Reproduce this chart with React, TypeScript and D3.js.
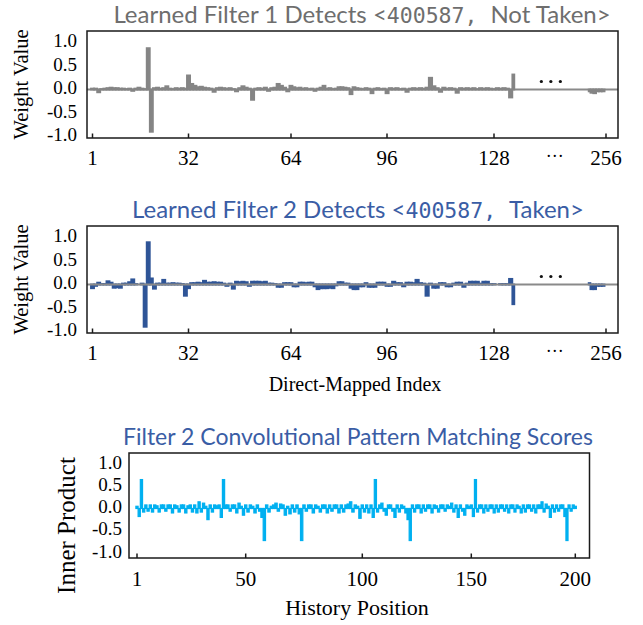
import React, { useEffect, useRef } from 'react';
import * as d3 from 'd3';

// weights of the learned filters, index 1..134, then the tail 250..255
const filter1Weights = [
  0.02, 0.02, -0.06, 0.01, 0.02, 0.03, 0.04, 0.03, 0.03, 0.02,
  0.02, 0.01, 0.02, -0.03, 0.02, 0.04, 0.02, 0.01, 0.88, -0.9,
  0.03, 0.04, 0.02, 0.03, 0.07, 0.02, 0.01, 0.03, 0.02, 0.03,
  0.02, 0.3, 0.12, 0.08, 0.05, 0.06, 0.04, 0.03, 0.02, -0.05,
  0.03, 0.04, 0.03, 0.02, 0.03, 0.01, -0.04, 0.03, 0.07, 0.04,
  0.02, -0.22, 0.02, 0.03, 0.02, 0.04, -0.03, 0.03, 0.04, 0.12,
  0.08, 0.04, -0.04, 0.08, 0.05, 0.03, 0.04, 0.02, 0.03, 0.01,
  0.02, -0.03, 0.02, 0.04, 0.08, 0.02, 0.03, 0.01, 0.02, 0.05,
  0.05, 0.04, 0.03, -0.1, 0.05, 0.03, 0.02, 0.01, 0.03, 0.02,
  -0.08, 0.02, 0.03, 0.01, 0.02, -0.08, 0.03, 0.02, 0.03, 0.01,
  0.02, -0.05, 0.02, 0.03, 0.02, 0.03, 0.02, 0.04, 0.25, 0.07,
  0.03, -0.05, 0.04, 0.02, 0.03, 0.02, -0.07, 0.03, 0.02, 0.03,
  0.02, 0.03, 0.01, 0.03, 0.02, 0.03, 0.02, 0.01, 0.03, 0.02,
  0.03, 0.02, -0.17, 0.32,
];
const filter1Tail = [-0.04, -0.07, -0.08, -0.04, -0.04, -0.04];

const filter2Weights = [
  -0.08, -0.03, 0.04, 0.01, 0.01, 0.07, 0.04, -0.07, -0.06, -0.07,
  0.02, 0.02, 0.05, 0.11, 0.01, 0.0, 0.02, -0.9, 0.9, 0.13,
  -0.09, 0.02, 0.02, 0.1, 0.02, 0.02, 0.03, 0.02, 0.02, 0.01,
  -0.24, -0.08, 0.03, 0.03, 0.04, 0.03, 0.08, 0.04, 0.04, 0.05,
  0.04, 0.04, 0.02, -0.03, 0.02, -0.09, 0.06, 0.05, 0.06, 0.05,
  -0.03, 0.06, 0.06, 0.06, 0.05, 0.06, 0.02, 0.02, 0.01, -0.05,
  -0.05, 0.03, 0.03, 0.03, -0.04, -0.04, 0.04, 0.04, 0.03, 0.04,
  0.04, -0.04, -0.1, -0.08, -0.08, -0.08, -0.07, -0.08, -0.02, 0.05,
  0.05, 0.02, 0.02, -0.07, -0.1, -0.1, -0.04, -0.04, 0.03, -0.05,
  -0.05, -0.05, 0.04, 0.04, 0.04, -0.03, -0.03, 0.06, 0.03, 0.03,
  -0.04, 0.04, 0.04, 0.03, 0.1, 0.03, 0.02, -0.24, 0.02, -0.07,
  -0.07, 0.03, 0.03, -0.04, -0.04, 0.02, 0.04, 0.04, -0.05, 0.02,
  0.06, 0.06, 0.06, 0.02, 0.06, 0.06, 0.01, 0.01, 0.0, 0.01,
  0.01, 0.01, 0.12, -0.42,
];
const filter2Tail = [0.03, -0.1, -0.1, -0.03, -0.03, -0.03];
const tailStart = 250;

const indexTicks = [1, 32, 64, 96, 128, 256];
const weightTicks = [1.0, 0.5, 0.0, -0.5, -1.0];

// filter 2 inner product at each of the 200 history positions
const matchScores = [
  0.05, -0.18, 0.65, -0.08, 0.08, -0.06, 0.08, -0.08, 0.08, 0.06,
  -0.08, 0.08, 0.08, -0.06, 0.08, 0.08, -0.1, 0.08, 0.06, -0.08,
  0.08, 0.08, -0.1, 0.06, 0.08, -0.08, 0.08, -0.1, 0.15, -0.08,
  0.12, 0.05, -0.25, 0.08, -0.08, 0.08, 0.06, 0.08, -0.2, 0.65,
  0.08, 0.08, -0.06, 0.08, 0.08, -0.1, 0.12, 0.05, -0.15, 0.08,
  -0.08, 0.08, 0.05, -0.1, 0.08, -0.06, -0.2, -0.72, 0.08, -0.08,
  0.05, 0.08, 0.12, -0.06, 0.1, 0.08, -0.15, 0.05, -0.12, 0.08,
  -0.08, 0.08, -0.12, -0.72, 0.08, -0.06, 0.08, 0.08, -0.1, 0.08,
  0.05, -0.08, 0.08, 0.08, -0.1, 0.08, -0.06, 0.08, 0.08, -0.1,
  0.08, -0.08, 0.08, 0.1, 0.15, -0.08, 0.08, 0.05, -0.22, 0.08,
  -0.08, 0.08, -0.1, 0.08, -0.2, 0.65, -0.08, 0.08, 0.12, -0.06,
  -0.15, 0.08, 0.08, -0.06, -0.2, 0.08, -0.08, 0.08, 0.05, -0.1,
  -0.25, -0.72, 0.08, -0.08, 0.08, 0.08, -0.1, 0.08, -0.06, 0.08,
  0.08, -0.1, 0.08, 0.06, -0.08, 0.08, 0.08, -0.06, 0.08, 0.05,
  0.12, -0.08, 0.08, -0.2, 0.08, -0.06, -0.15, 0.08, 0.05, 0.08,
  -0.18, 0.65, -0.08, 0.08, 0.08, -0.1, 0.08, -0.06, 0.08, 0.08,
  -0.1, 0.08, -0.08, 0.08, 0.08, -0.06, 0.08, -0.1, 0.08, 0.08,
  -0.08, 0.08, 0.05, -0.1, 0.08, -0.08, 0.08, 0.08, -0.06, 0.08,
  -0.1, 0.08, 0.08, 0.15, -0.08, 0.1, 0.05, -0.2, 0.08, -0.08,
  0.08, -0.06, 0.08, 0.08, -0.18, -0.72, 0.08, -0.06, 0.08, 0.05,
];
const positionTicks = [1, 50, 100, 150, 200];
const scoreTicks = [1.0, 0.5, 0.0, -0.5, -1.0];

const SERIF = '"Liberation Serif", "Times New Roman", serif';
const SANS = 'Lato, "Open Sans", sans-serif';
const MONO = '"DejaVu Sans Mono", "Liberation Mono", monospace';
const TITLE_BLUE = '#3a5da5';

type Sel = d3.Selection<SVGSVGElement, unknown, null, undefined>;

function drawTitle(svg: Sel, cx: number, cy: number, parts: [string, string][], color: string, size = 24) {
  const t = svg.append('text')
    .attr('x', cx).attr('y', cy)
    .attr('text-anchor', 'middle')
    .attr('fill', color)
    .attr('font-size', size);
  parts.forEach(([s, font]) => {
    t.append('tspan')
      .attr('font-family', font)
      .attr('font-size', font === MONO ? 21.5 : size)
      .attr('xml:space', 'preserve')
      .style('white-space', 'pre')
      .text(s);
  });
}

function drawWeights(svg: Sel, top: number, values: number[], tail: number[], color: string, lineOnTop: boolean) {
  const left = 87, right = 618, bottom = top + 107;
  const x = d3.scaleLinear()
    .domain([1, 32, 64, 96, 128, 134, tailStart, 256])
    .range([92.5, 188.5, 291, 387, 494, 514, 589, 606]);
  const y = d3.scaleLinear().domain([-1, 1]).range([top + 105.5, top + 11.5]);

  const data = values.map((v, i) => ({ idx: i + 1, v }))
    .concat(tail.map((v, i) => ({ idx: tailStart + i, v })));

  const baseline = () => svg.append('line')
    .attr('x1', left).attr('x2', right)
    .attr('y1', y(0)).attr('y2', y(0))
    .attr('stroke', '#8a8a8a').attr('stroke-width', 2);

  if (!lineOnTop) baseline();

  svg.append('g').selectAll('rect')
    .data(data)
    .enter()
    .append('rect')
    .attr('x', d => x(d.idx - 0.5))
    .attr('width', d => x(d.idx + 0.5) - x(d.idx - 0.5))
    .attr('y', d => y(Math.max(0, d.v)))
    .attr('height', d => Math.abs(y(d.v) - y(0)))
    .attr('fill', color)
    .attr('stroke', color)
    .attr('stroke-width', 1.8);

  if (lineOnTop) baseline();

  // the "..." gap marker
  const gapX = x(191);
  [-9.5, 0, 9.5].forEach(dx => {
    svg.append('circle')
      .attr('cx', gapX + dx).attr('cy', y(0.17))
      .attr('r', 1.6).attr('fill', '#111');
  });

  svg.append('rect')
    .attr('x', left).attr('y', top)
    .attr('width', right - left).attr('height', bottom - top)
    .attr('fill', 'none').attr('stroke', '#1a1a1a').attr('stroke-width', 1.5);

  indexTicks.forEach(t => {
    svg.append('line')
      .attr('x1', x(t)).attr('x2', x(t))
      .attr('y1', bottom).attr('y2', bottom - 4.5)
      .attr('stroke', '#1a1a1a').attr('stroke-width', 1.5);
    svg.append('text')
      .attr('x', x(t)).attr('y', bottom + 27)
      .attr('text-anchor', 'middle')
      .attr('font-family', SERIF).attr('font-size', 21)
      .text(t);
  });
  svg.append('text')
    .attr('x', gapX + 4).attr('y', bottom + 24)
    .attr('text-anchor', 'middle')
    .attr('font-family', SERIF).attr('font-size', 18)
    .text('···');

  weightTicks.forEach(t => {
    svg.append('text')
      .attr('x', 77).attr('y', y(t) + 4.5)
      .attr('text-anchor', 'end')
      .attr('font-family', SERIF).attr('font-size', 19)
      .text(t.toFixed(1));
  });

  svg.append('text')
    .attr('transform', `translate(28,${(top + bottom) / 2}) rotate(-90)`)
    .attr('text-anchor', 'middle')
    .attr('font-family', SERIF).attr('font-size', 20.5)
    .text('Weight Value');
}

function drawScores(svg: Sel) {
  const left = 129, right = 589.5, top = 453, bottom = 558;
  const x = d3.scaleLinear()
    .domain(positionTicks)
    .range([137, 245.7, 362.3, 471.3, 575.3]);
  const y = d3.scaleLinear().domain([-1, 1]).range([553, 464]);

  svg.append('g').selectAll('rect')
    .data(matchScores)
    .enter()
    .append('rect')
    .attr('x', (d, i) => x(i + 0.5))
    .attr('width', (d, i) => x(i + 1.5) - x(i + 0.5))
    .attr('y', d => y(Math.max(0, d)))
    .attr('height', d => Math.abs(y(d) - y(0)))
    .attr('fill', '#00b0f0')
    .attr('stroke', '#00b0f0')
    .attr('stroke-width', 1.2);

  svg.append('rect')
    .attr('x', left).attr('y', top)
    .attr('width', right - left).attr('height', bottom - top)
    .attr('fill', 'none').attr('stroke', '#1a1a1a').attr('stroke-width', 1.5);

  positionTicks.forEach(t => {
    svg.append('line')
      .attr('x1', x(t)).attr('x2', x(t))
      .attr('y1', bottom).attr('y2', bottom - 4.5)
      .attr('stroke', '#1a1a1a').attr('stroke-width', 1.5);
    svg.append('text')
      .attr('x', x(t)).attr('y', bottom + 28)
      .attr('text-anchor', 'middle')
      .attr('font-family', SERIF).attr('font-size', 21)
      .text(t);
  });

  scoreTicks.forEach(t => {
    svg.append('text')
      .attr('x', 122).attr('y', y(t) + 4.5)
      .attr('text-anchor', 'end')
      .attr('font-family', SERIF).attr('font-size', 19)
      .text(t.toFixed(1));
  });

  svg.append('text')
    .attr('transform', `translate(75,${(top + bottom) / 2 + 20}) rotate(-90)`)
    .attr('text-anchor', 'middle')
    .attr('font-family', SERIF).attr('font-size', 25)
    .text('Inner Product');

  svg.append('text')
    .attr('x', 357).attr('y', 615)
    .attr('text-anchor', 'middle')
    .attr('font-family', SERIF).attr('font-size', 22)
    .text('History Position');
}

export default function App() {
  const ref = useRef<SVGSVGElement>(null);

  useEffect(() => {
    if (!ref.current) return;
    const svg = d3.select(ref.current) as Sel;
    svg.selectAll('*').remove();

    drawTitle(svg, 362, 23, [
      ['Learned Filter 1 Detects <', SANS],
      ['400587, ', MONO],
      ['Not Taken>', SANS],
    ], '#6e6e6e');
    drawWeights(svg, 31, filter1Weights, filter1Tail, '#858585', false);

    drawTitle(svg, 358, 218, [
      ['Learned Filter 2 Detects <', SANS],
      ['400587, ', MONO],
      ['Taken>', SANS],
    ], TITLE_BLUE);
    drawWeights(svg, 226, filter2Weights, filter2Tail, '#2f5597', true);

    svg.append('text')
      .attr('x', 355).attr('y', 391)
      .attr('text-anchor', 'middle')
      .attr('font-family', SERIF).attr('font-size', 20)
      .text('Direct-Mapped Index');

    drawTitle(svg, 358, 445, [
      ['Filter 2 Convolutional Pattern Matching Scores', SANS],
    ], TITLE_BLUE, 23);
    drawScores(svg);
  }, []);

  return (
    <svg
      ref={ref}
      width={643}
      height={625}
      style={{ position: 'absolute', left: 0, top: 0, background: '#fff' }}
    />
  );
}
